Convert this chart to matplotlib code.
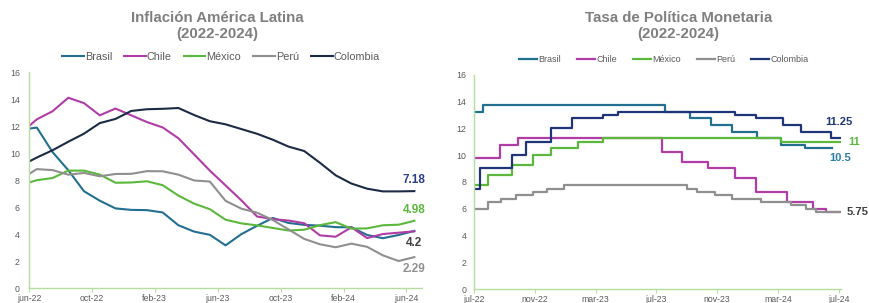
import matplotlib
matplotlib.use("Agg")
import matplotlib.pyplot as plt
import numpy as np

plt.rcParams['font.family'] = ['Liberation Sans', 'DejaVu Sans']

# ---------------- Inflation (monthly, May-22 .. Jun-24) ----------------
infl_months = ['may-22', 'jun-22', 'jul-22', 'aug-22', 'sep-22', 'oct-22', 'nov-22', 'dec-22',
               'jan-23', 'feb-23', 'mar-23', 'apr-23', 'may-23', 'jun-23', 'jul-23', 'aug-23',
               'sep-23', 'oct-23', 'nov-23', 'dec-23', 'jan-24', 'feb-24', 'mar-24', 'apr-24',
               'may-24', 'jun-24']
infl_brasil = [11.73, 11.89, 10.07, 8.73, 7.17, 6.47, 5.90, 5.79, 5.77, 5.60, 4.65, 4.18, 3.94,
               3.16, 3.99, 4.61, 5.19, 4.82, 4.68, 4.62, 4.51, 4.50, 3.93, 3.69, 3.93, 4.23]
infl_chile = [11.5, 12.5, 13.1, 14.1, 13.7, 12.8, 13.3, 12.8, 12.3, 11.9, 11.1, 9.9, 8.7,
              7.6, 6.5, 5.3, 5.1, 5.0, 4.8, 3.9, 3.8, 4.5, 3.7, 4.0, 4.1, 4.2]
infl_mexico = [7.65, 7.99, 8.15, 8.70, 8.70, 8.41, 7.80, 7.82, 7.91, 7.62, 6.85, 6.25, 5.84,
               5.06, 4.79, 4.64, 4.45, 4.26, 4.32, 4.66, 4.88, 4.40, 4.42, 4.65, 4.69, 4.98]
infl_peru = [8.09, 8.81, 8.74, 8.40, 8.53, 8.28, 8.45, 8.46, 8.66, 8.65, 8.40, 7.97, 7.89,
             6.46, 5.88, 5.58, 5.04, 4.34, 3.64, 3.24, 3.02, 3.29, 3.05, 2.42, 2.00, 2.29]
infl_colombia = [9.07, 9.67, 10.21, 10.84, 11.44, 12.22, 12.53, 13.12, 13.25, 13.28, 13.34, 12.82,
                 12.36, 12.13, 11.78, 11.43, 10.99, 10.48, 10.15, 9.28, 8.35, 7.74, 7.36, 7.16,
                 7.16, 7.18]
infl_ticks = ['jun-22', 'oct-22', 'feb-23', 'jun-23', 'oct-23', 'feb-24', 'jun-24']
infl_labels = ['7.18', '4.98', '4.2', '2.29']

# ---------------- Policy rate (step changes, months after jul-22) ----------------
tpm_ticks = ['jul-22', 'nov-22', 'mar-23', 'jul-23', 'nov-23', 'mar-24', 'jul-24']
brasil_t = [0, 0.61, 12.56, 14.2, 15.6, 17.0, 18.6, 20.2, 21.8, 23.56]
brasil_r = [13.25, 13.75, 13.25, 12.75, 12.25, 11.75, 11.25, 10.75, 10.5, 10.5]
chile_t = [0, 1.71, 2.91, 12.39, 13.68, 15.38, 17.16, 18.57, 20.62, 22.27, 23.14, 24.15]
chile_r = [9.75, 10.75, 11.25, 10.25, 9.5, 9.0, 8.25, 7.25, 6.5, 6.0, 5.75, 5.75]
mexico_t = [0, 0.9, 2.48, 3.9, 5.06, 6.86, 8.46, 20.2, 24.15]
mexico_r = [7.75, 8.5, 9.25, 10.0, 10.5, 11.0, 11.25, 11.0, 11.0]
peru_t = [0, 0.9, 1.78, 2.76, 3.9, 4.78, 5.94, 13.98, 14.64, 15.85, 17.0, 18.87, 20.84, 21.83,
          22.5, 24.15]
peru_r = [6.0, 6.5, 6.75, 7.0, 7.25, 7.5, 7.75, 7.5, 7.25, 7.0, 6.75, 6.5, 6.25, 6.0, 5.75, 5.75]
colombia_t = [0, 0.39, 2.48, 3.42, 5.04, 6.42, 8.46, 9.45, 17.16, 18.54, 20.3, 21.5, 23.5, 24.15]
colombia_r = [7.5, 9.0, 10.0, 11.0, 12.0, 12.75, 13.0, 13.25, 13.0, 12.75, 12.25, 11.75, 11.25,
              11.25]
tpm_labels = ['11.25', '11', '10.5', '5.75']

series_names = ['Brasil', 'Chile', 'México', 'Perú', 'Colombia']

C_BR = '#226F90'
C_CL = '#B03CA6'
C_MX = '#5CB83C'
C_PE = '#8F8F8F'
C_CO_L = '#1C2B45'
C_CO_R = '#1F3577'
TXT = '#5A5A5A'
SPINE = '#B5DDA0'

fig = plt.figure(figsize=(8.70, 3.03), dpi=100)

def style_axis(ax, ypad):
    for s in ['top', 'right']:
        ax.spines[s].set_visible(False)
    ax.spines['left'].set_color(SPINE)
    ax.spines['bottom'].set_color(SPINE)
    ax.spines['left'].set_linewidth(1.0)
    ax.spines['bottom'].set_linewidth(1.0)
    ax.tick_params(axis='y', length=0, labelsize=6.3, labelcolor=TXT, pad=ypad)
    ax.tick_params(axis='x', length=3, color=SPINE, labelsize=6.3, labelcolor=TXT, pad=1)
    ax.set_ylim(0, 16)
    ax.set_yticks(np.arange(0, 17, 2))

# ---------- left ----------
ax1 = fig.add_axes([0.0333, 0.0495, 0.452, 0.7125])
style_axis(ax1, 6.5)
xm = np.arange(len(infl_months)) - 0.5
lw = 1.5
ax1.plot(xm, infl_brasil, color=C_BR, lw=lw, label=series_names[0])
ax1.plot(xm, infl_chile, color=C_CL, lw=lw, label=series_names[1])
ax1.plot(xm, infl_mexico, color=C_MX, lw=lw, label=series_names[2])
ax1.plot(xm, infl_peru, color=C_PE, lw=lw, label=series_names[3])
ax1.plot(xm, infl_colombia, color=C_CO_L, lw=lw, label=series_names[4])
ax1.set_xlim(0, 25)
ax1.set_xticks(np.arange(0, 25, 4))
ax1.set_xticklabels(infl_ticks)
xe = xm[-1]
ax1.text(xe, infl_colombia[-1] + 0.8, infl_labels[0], color='#2B3E8A', fontsize=8.5,
         fontweight='bold', ha='center', va='center')
ax1.text(xe, infl_mexico[-1] + 0.8, infl_labels[1], color=C_MX, fontsize=8.5,
         fontweight='bold', ha='center', va='center')
ax1.text(xe, infl_chile[-1] - 0.85, infl_labels[2], color='#404040', fontsize=8.5,
         fontweight='bold', ha='center', va='center')
ax1.text(xe, infl_peru[-1] - 0.9, infl_labels[3], color=C_PE, fontsize=8.5,
         fontweight='bold', ha='center', va='center')

fig.text(0.25, 0.94, 'Inflación América Latina', ha='center', va='center',
         fontsize=10.8, fontweight='bold', color='#7F7F7F')
fig.text(0.25, 0.888, '(2022-2024)', ha='center', va='center',
         fontsize=10.8, fontweight='bold', color='#7F7F7F')
h1, l1 = ax1.get_legend_handles_labels()
fig.legend(h1, l1, loc='center', bbox_to_anchor=(0.254, 0.813), ncol=5, frameon=False,
           fontsize=7.8, handlelength=2.0, handletextpad=0.1, columnspacing=1.1,
           labelcolor=TXT)

# ---------- right ----------
ax2 = fig.add_axes([0.5448, 0.0462, 0.422, 0.7073])
style_axis(ax2, 5.5)
lw2 = 1.6
ax2.step(brasil_t, brasil_r, where='post', color=C_BR, lw=lw2, label=series_names[0])
ax2.step(chile_t, chile_r, where='post', color=C_CL, lw=lw2, label=series_names[1])
ax2.step(mexico_t, mexico_r, where='post', color=C_MX, lw=lw2, label=series_names[2])
ax2.step(peru_t, peru_r, where='post', color=C_PE, lw=lw2, label=series_names[3])
ax2.step(colombia_t, colombia_r, where='post', color=C_CO_R, lw=lw2, label=series_names[4])
ax2.set_xlim(0, 24.15)
ax2.set_xticks(np.arange(0, 25, 4))
ax2.set_xticklabels(tpm_ticks)
ax2.text(24.0, colombia_r[-1] + 1.2, tpm_labels[0], color=C_CO_R, fontsize=8,
         fontweight='bold', ha='center', va='center', clip_on=False)
ax2.text(24.6, mexico_r[-1], tpm_labels[1], color=C_MX, fontsize=8,
         fontweight='bold', ha='left', va='center', clip_on=False)
ax2.text(24.1, brasil_r[-1] - 0.75, tpm_labels[2], color='#2B7FA5', fontsize=8,
         fontweight='bold', ha='center', va='center', clip_on=False)
ax2.text(24.5, chile_r[-1], tpm_labels[3], color='#404040', fontsize=8,
         fontweight='bold', ha='left', va='center', clip_on=False)

fig.text(0.78, 0.94, 'Tasa de Política Monetaria', ha='center', va='center',
         fontsize=10.8, fontweight='bold', color='#7F7F7F')
fig.text(0.78, 0.888, '(2022-2024)', ha='center', va='center',
         fontsize=10.8, fontweight='bold', color='#7F7F7F')
h2, l2 = ax2.get_legend_handles_labels()
fig.legend(h2, l2, loc='center', bbox_to_anchor=(0.763, 0.803), ncol=5, frameon=False,
           fontsize=6.5, handlelength=2.0, handletextpad=0.1, columnspacing=1.8,
           labelcolor=TXT)

fig.savefig('out.png', dpi=100)
